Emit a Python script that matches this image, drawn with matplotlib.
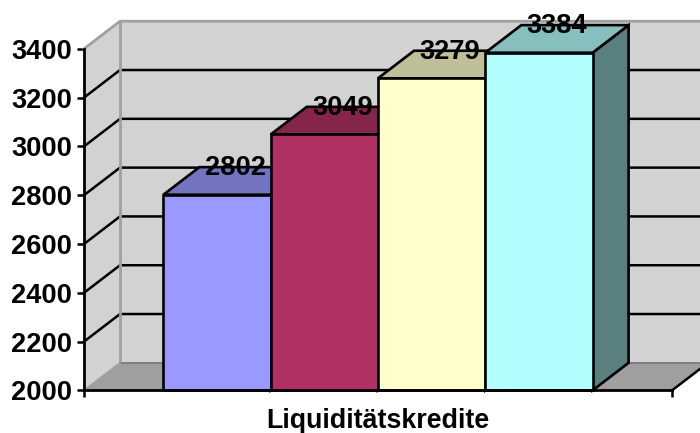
import matplotlib
matplotlib.use("Agg")
import matplotlib.pyplot as plt
from matplotlib.patches import Polygon

plt.rcParams["font.family"] = ["Liberation Sans", "DejaVu Sans"]
plt.rcParams["font.weight"] = "bold"

values = [2802, 3049, 3279, 3384]
y_ticks = [2000, 2200, 2400, 2600, 2800, 3000, 3200, 3400]
category = "Liquiditätskredite"

front_colors = ["#9999FF", "#B23165", "#FFFFCC", "#B3FFFF"]
top_colors = ["#7373C0", "#852549", "#BFBF99", "#87BFBF"]
side_colors = ["#59597F", "#5F1A35", "#7F7F66", "#597F7F"]

wall_color = "#D2D2D2"
floor_color = "#9F9F9F"
edge_gray = "#A0A0A0"

# depth of the fake 3d box, in data units
dx = 0.3355
dy = 113.0

fig = plt.figure(figsize=(7, 4.33), dpi=100)
ax = fig.add_axes([84 / 700, 1 - 390.4 / 433, 588 / 700, 341.6 / 433])

x0, x1 = -1.240, 4.240
y0, y1 = y_ticks[0], y_ticks[-1]
ax.set_xlim(x0, x1)
ax.set_ylim(y0, y1)


def poly(points, color, edge="none", lw=0, z=1):
    ax.add_patch(Polygon(points, closed=True, facecolor=color, edgecolor=edge,
                         linewidth=lw, zorder=z, clip_on=False, joinstyle="miter"))


# walls and floor
poly([(x0 + dx, y0 + dy), (x1 + dx, y0 + dy), (x1 + dx, y1 + dy), (x0 + dx, y1 + dy)], wall_color)
poly([(x0, y0), (x0 + dx, y0 + dy), (x0 + dx, y1 + dy), (x0, y1)], wall_color)
poly([(x0, y0), (x0 + dx, y0 + dy), (x1 + dx, y0 + dy), (x1, y0)], floor_color)

# gridlines on side wall and back wall
for t in y_ticks[1:-1]:
    ax.plot([x0, x0 + dx, x1 + dx], [t, t + dy, t + dy], color="black", lw=1.8,
            zorder=2, clip_on=False, solid_joinstyle="miter")

# wall borders
ax.plot([x0, x0 + dx, x1 + dx], [y1, y1 + dy, y1 + dy], color=edge_gray, lw=2.0, zorder=2, clip_on=False)
ax.plot([x0 + dx, x0 + dx], [y0 + dy, y1 + dy], color=edge_gray, lw=2.0, zorder=2, clip_on=False)
ax.plot([x0 + dx, x1 + dx], [y0 + dy, y0 + dy], color="#808080", lw=1.4, zorder=2, clip_on=False)
ax.plot([x0, x0 + dx], [y0, y0 + dy], color=edge_gray, lw=1.2, zorder=2, clip_on=False)
ax.plot([x1, x1 + dx], [y0, y0 + dy], color="black", lw=1.8, zorder=2, clip_on=False)

# bars, left to right
for i, v in enumerate(values):
    left = i - 0.5
    right = i + 0.5
    z = 3 + i * 0.1
    poly([(right, y0), (right + dx, y0 + dy), (right + dx, v + dy), (right, v)],
         side_colors[i], "black", 1.9, z)
    poly([(left, v), (left + dx, v + dy), (right + dx, v + dy), (right, v)],
         top_colors[i], "black", 1.9, z)
    poly([(left, y0), (right, y0), (right, v), (left, v)],
         front_colors[i], "black", 1.9, z)

for i, v in enumerate(values):
    ax.annotate(str(v), (i + dx / 2, v + dy), xytext=(0, 1.5), textcoords="offset points",
                ha="center", va="center_baseline", fontsize=19.6,
                fontweight="bold", color="black", zorder=10, annotation_clip=False)

ax.spines["top"].set_visible(False)
ax.spines["right"].set_visible(False)
ax.spines["left"].set_linewidth(2.0)
ax.spines["bottom"].set_linewidth(2.0)
ax.spines["left"].set_zorder(5)
ax.spines["bottom"].set_zorder(5)
ax.patch.set_visible(False)

ax.set_yticks(y_ticks)
ax.set_xticks([x0, x1])
ax.set_xticklabels(["", ""])
ax.tick_params(axis="both", length=5, width=1.8, labelsize=19.6, pad=3.5)
for label in ax.get_yticklabels():
    label.set_verticalalignment("center_baseline")
ax.set_xlabel(category, fontsize=19.3, fontweight="bold", labelpad=4.5)

fig.savefig("out.png", dpi=100)
